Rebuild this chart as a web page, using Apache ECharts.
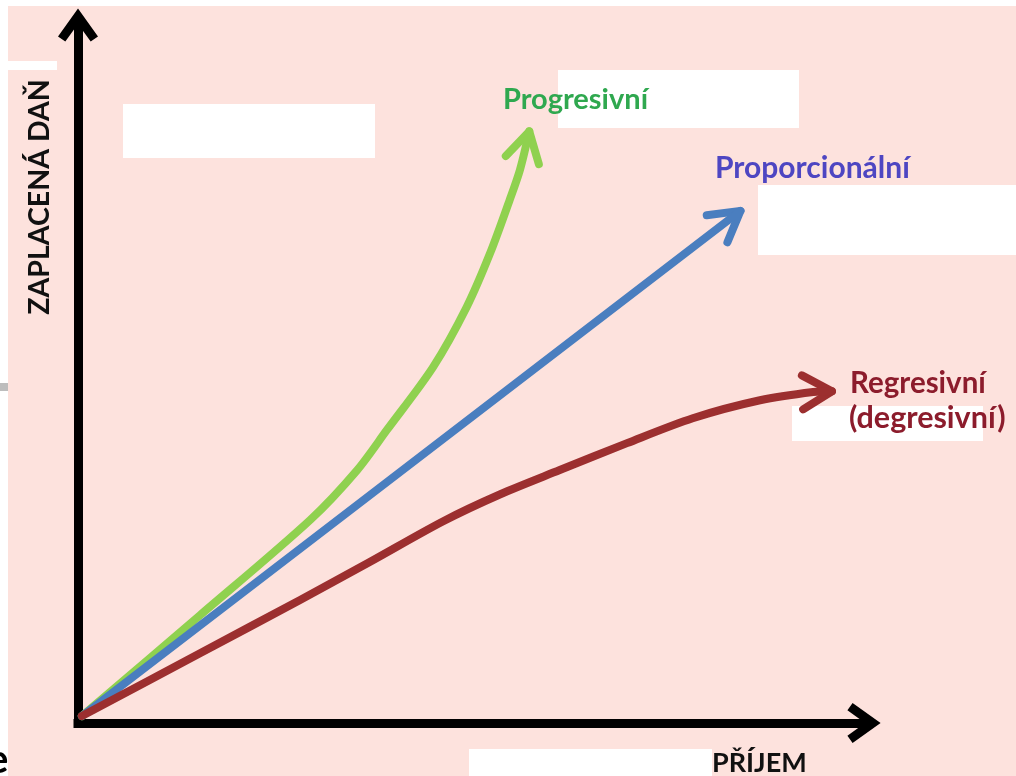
<!DOCTYPE html>
<html><head><meta charset="utf-8">
<script src="https://cdn.jsdelivr.net/npm/echarts@6/dist/echarts.min.js"></script>
<style>html,body{margin:0;padding:0;background:#fff}#c{width:1016px;height:776px}</style>
</head><body><div id="c"></div>
<script>
// Data (x = příjem, y = zaplacená daň)
const progresivni = [[0,0],[15.1,14.6],[29.2,28.4],[35.2,35.6],[39.0,41.4],[44.9,50.5],[49.2,59.2],[52.2,67.0],[54.7,74.7],[56.0,79.0],[57.2,84.6]];
const proporcionalni = [[0,0],[84.2,73.1]];
const regresivni = [[0,0],[15.1,9.1],[27.9,16.8],[36.8,22.3],[46.2,28.2],[53.5,32.1],[61.1,35.6],[69.7,39.5],[78.1,43.1],[86.7,45.7],[93.5,46.9],[95.9,47.0]];
const seriesNames = ['Progresivní','Proporcionální','Regresivní'];
const seriesColors = ['#8fd14f','#4a7ebf','#9c2f2f'];
const axisNames = ['PŘÍJEM','ZAPLACENÁ DAŇ'];

const allSeries = [progresivni, proporcionalni, regresivni];
const arrowData = allSeries.map((s, i) => {
  const a = s[s.length - 2], b = s[s.length - 1];
  return [a[0], a[1], b[0], b[1], i];
});

const chevron = 'path://M20 0 L40 28 L32.7 33.2 L20 15.5 L7.3 33.2 L0 28 Z';
const axisCommon = {
  type: 'value',
  axisLine: { show: true, onZero: false, symbol: ['none', chevron], symbolSize: [40, 34],
    lineStyle: { color: '#000', width: 9, cap: 'square' } },
  axisTick: { show: false }, axisLabel: { show: false }, splitLine: { show: false }
};

const chart = echarts.init(document.getElementById('c'), null, { renderer: 'canvas' });
chart.setOption({
  backgroundColor: '#fde2dd',
  animation: false,
  grid: { left: 78, right: 152, top: 25, bottom: 53 },
  xAxis: Object.assign({}, axisCommon, { min: -0.5, max: 100 }),
  yAxis: Object.assign({}, axisCommon, { min: -1, max: 100 }),
  series: allSeries.map((s, i) => ({
    type: 'line', name: seriesNames[i], data: s, symbol: 'none',
    smooth: i === 1 ? false : 0.3,
    lineStyle: { color: seriesColors[i], width: 8, cap: 'round', join: 'round' }, z: 3
  })).concat([{
    type: 'custom', data: arrowData, encode: { x: [0, 2], y: [1, 3] }, z: 3,
    renderItem: function (params, api) {
      const a = api.coord([api.value(0), api.value(1)]);
      const b = api.coord([api.value(2), api.value(3)]);
      const ang = Math.atan2(b[1] - a[1], b[0] - a[0]);
      const L = 34, h = Math.PI / 6;
      const p1 = [b[0] - L * Math.cos(ang - h), b[1] - L * Math.sin(ang - h)];
      const p2 = [b[0] - L * Math.cos(ang + h), b[1] - L * Math.sin(ang + h)];
      return { type: 'polyline', shape: { points: [p1, b, p2] },
        style: { stroke: seriesColors[api.value(4)], lineWidth: 8, lineCap: 'round', lineJoin: 'round', fill: 'none' } };
    }
  }]),
  graphic: [
    { type: 'rect', z: 90, silent: true, shape: { x: 0, y: 0, width: 1016, height: 6 }, style: { fill: '#fff' } },
    { type: 'rect', z: 90, silent: true, shape: { x: 0, y: 0, width: 8, height: 776 }, style: { fill: '#fff' } },
    { type: 'rect', z: 91, silent: true, shape: { x: 0, y: 383, width: 8, height: 8 }, style: { fill: '#bdbdbd' } },
    { type: 'text', z: 92, silent: true, x: -13, y: 760, style: { text: 'e', fontSize: 40, fontWeight: 'bold', fontFamily: 'Lato', fill: '#000', verticalAlign: 'middle', textVerticalAlign: 'middle' } },
    { type: 'rect', z: 1, silent: true, shape: { x: 8, y: 61, width: 49, height: 9 }, style: { fill: '#fff' } },
    { type: 'rect', z: 1, silent: true, shape: { x: 123, y: 104, width: 252, height: 54 }, style: { fill: '#fff' } },
    { type: 'rect', z: 1, silent: true, shape: { x: 558, y: 70, width: 241, height: 58 }, style: { fill: '#fff' } },
    { type: 'rect', z: 1, silent: true, shape: { x: 758, y: 185, width: 258, height: 70 }, style: { fill: '#fff' } },
    { type: 'rect', z: 1, silent: true, shape: { x: 792, y: 406, width: 191, height: 35 }, style: { fill: '#fff' } },
    { type: 'rect', z: 1, silent: true, shape: { x: 469, y: 749, width: 243, height: 27 }, style: { fill: '#fff' } },
    { type: 'text', z: 100, silent: true, x: 503, y: 100, style: { text: seriesNames[0], fill: '#2fa84f', fontSize: 29, fontWeight: 'bold', fontFamily: 'Lato', verticalAlign: 'middle', textVerticalAlign: 'middle' } },
    { type: 'text', z: 100, silent: true, x: 715, y: 168, style: { text: seriesNames[1], fill: '#4e46c2', fontSize: 30, fontWeight: 'bold', fontFamily: 'Lato', verticalAlign: 'middle', textVerticalAlign: 'middle' } },
    { type: 'text', z: 100, silent: true, x: 850, y: 383, style: { text: seriesNames[2], fill: '#8c1c2c', fontSize: 29.5, fontWeight: 'bold', fontFamily: 'Lato', verticalAlign: 'middle', textVerticalAlign: 'middle' } },
    { type: 'text', z: 100, silent: true, x: 849, y: 418, style: { text: '(degresivní)', fill: '#8c1c2c', fontSize: 30.5, fontWeight: 'bold', fontFamily: 'Lato', verticalAlign: 'middle', textVerticalAlign: 'middle' } },
    { type: 'text', z: 100, silent: true, x: 712, y: 763, style: { text: axisNames[0], fill: '#111', fontSize: 27, fontWeight: 'bold', fontFamily: 'Lato', verticalAlign: 'middle', textVerticalAlign: 'middle' } },
    { type: 'text', z: 100, silent: true, x: 40, y: 197, rotation: Math.PI / 2, style: { text: axisNames[1], fill: '#111', fontSize: 28.5, fontWeight: 'bold', fontFamily: 'Lato', align: 'center', textAlign: 'center', verticalAlign: 'middle', textVerticalAlign: 'middle' } }
  ]
});
</script></body></html>
